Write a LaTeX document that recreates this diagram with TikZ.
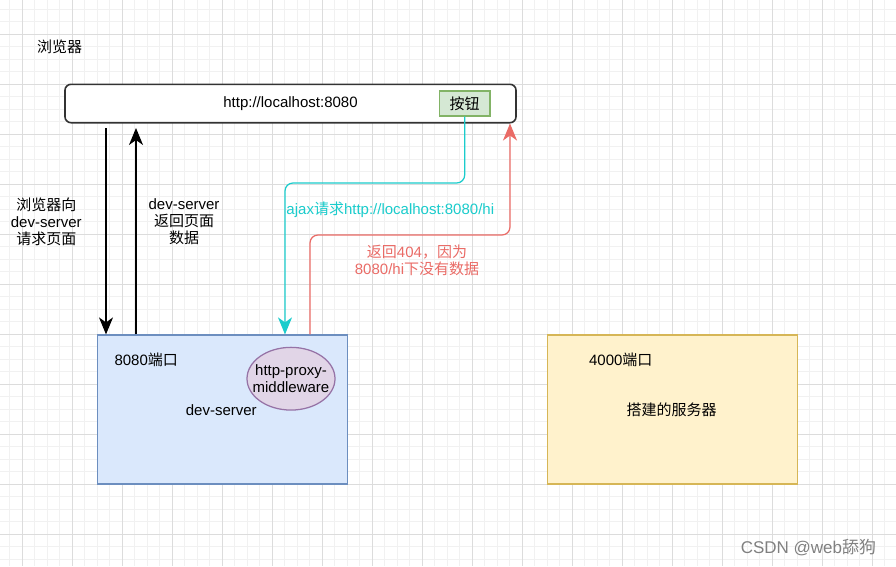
\documentclass[tikz,border=0pt]{standalone}
\usepackage{fontspec}
\setmainfont{Liberation Sans}
\newfontfamily\cjkfont{Noto Sans CJK SC}
\newcommand{\zh}[1]{{\cjkfont #1}}
\usetikzlibrary{arrows.meta,shapes.geometric}

\definecolor{gridminor}{HTML}{F1F1F1}
\definecolor{gridmajor}{HTML}{DCDCDC}
\definecolor{devfill}{HTML}{DAE8FC}
\definecolor{devdraw}{HTML}{6C8EBF}
\definecolor{srvfill}{HTML}{FFF2CC}
\definecolor{srvdraw}{HTML}{D6B656}
\definecolor{btnfill}{HTML}{D5E8D4}
\definecolor{btndraw}{HTML}{82B366}
\definecolor{mwfill}{HTML}{E1D5E7}
\definecolor{mwdraw}{HTML}{9673A6}
\definecolor{ajaxcol}{HTML}{1ACCCC}
\definecolor{backcol}{HTML}{EA6B66}

\begin{document}
\begin{tikzpicture}[x=1pt,y=-1pt,
    every node/.style={font=\fontsize{15}{16.7}\selectfont, inner sep=0pt},
    txt/.style={align=center},
    box/.style={draw, line width=1.6pt, minimum width=250pt, minimum height=149pt},
    arr/.style={line width=1.25pt, -{Stealth[length=17pt,width=14pt,inset=5pt]}}]
    %Grid
        \useasboundingbox (0,0) rectangle (896,566);
        \fill[white] (0,0) rectangle (896,566);
        \foreach \gx in {9.8,22.3,...,896} \draw[gridminor, line width=1pt] (\gx,0) -- (\gx,566);
        \foreach \gy in {9.3,21.8,...,566} \draw[gridminor, line width=1pt] (0,\gy) -- (896,\gy);
        \foreach \gx in {22.3,72.3,...,896} \draw[gridmajor, line width=1pt] (\gx,0) -- (\gx,566);
        \foreach \gy in {34.3,84.3,...,566} \draw[gridmajor, line width=1pt] (0,\gy) -- (896,\gy);
    %Browser
        \node[txt] (browser) at (59.5,47) {\zh{浏览器}};
        \node[draw=black!80, line width=1.6pt, rounded corners=6pt, fill=white,
            minimum width=451pt, minimum height=38.4pt] (bar) at (290.5,103.5) {};
        \node (url) at (290.5,103.5) {http://localhost:8080};
        \node[draw=btndraw, fill=btnfill, line width=1.25pt,
            minimum width=50.7pt, minimum height=25pt] (btn) at (464.7,103.5) {\zh{按钮}};
    %Servers
        \node[box, draw=devdraw, fill=devfill] (dev) at (222.3,409.7) {};
        \node (devport) at (146.2,360) {8080\zh{端口}};
        \node (devname) at (221.3,410) {dev-server};
        \node[ellipse, draw=mwdraw, fill=mwfill, line width=1.25pt, txt, inner xsep=-8pt,
            minimum width=88pt, minimum height=62.7pt] (mw) at (291,378.7) {http-proxy-\\middleware};
        \node[box, draw=srvdraw, fill=srvfill] (srv) at (672.3,409.7) {};
        \node (srvport) at (620.8,360) {4000\zh{端口}};
        \node (srvname) at (671.7,410) {\zh{搭建的服务器}};
    %Arrows
        \coordinate (reqx) at (106,0);
        \coordinate (resx) at (136,0);
        \draw[arr, shorten <=4.5pt] (bar.south -| reqx) -- (dev.north -| reqx);
        \draw[arr, shorten >=4.5pt] (dev.north -| resx) -- (bar.south -| resx);
        \node[txt] (reqlabel) at (46.3,221.7) {\zh{浏览器向}\\dev-server\\\zh{请求页面}};
        \node[txt] (reslabel) at (184,221.7) {dev-server\\\zh{返回页面}\\\zh{数据}};
        %
        \coordinate (ajaxturn) at (285,183);
        \draw[arr, ajaxcol, rounded corners=8pt] (btn.south) |- (ajaxturn) -- (dev.north -| ajaxturn);
        \node[ajaxcol] (ajaxlabel) at (390.3,210) {ajax\zh{请求}http://localhost:8080/hi};
        %
        \coordinate (backturn) at (310,235);
        \coordinate (backcorner) at (510,235);
        \draw[arr, backcol, rounded corners=8pt] (dev.north -| backturn) -- (backturn) -- (backcorner) -- (bar.south -| backcorner);
        \node[txt, backcol] (backlabel) at (417,260) {\zh{返回}404\zh{，因为}\\8080/hi\zh{下没有数据}};
    %Watermark
        \node[black!50, font=\fontsize{17}{17}\selectfont] (mark) at (808.5,548) {CSDN @web\zh{舔狗}};
\end{tikzpicture}
\end{document}
